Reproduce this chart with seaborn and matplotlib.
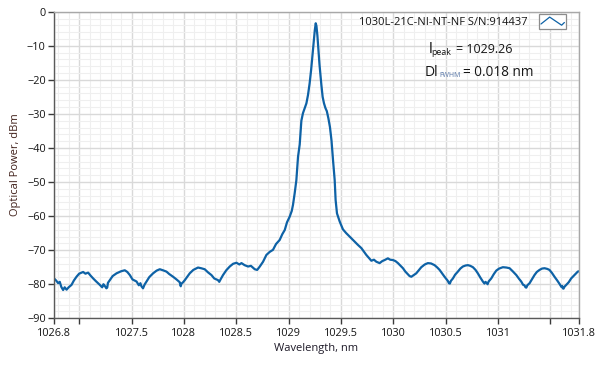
import numpy as np
import pandas as pd
import matplotlib
matplotlib.use('Agg')
import matplotlib.pyplot as plt
import seaborn as sns
from matplotlib.ticker import MultipleLocator, FixedLocator, FixedFormatter
from matplotlib.legend_handler import HandlerBase
from matplotlib.patches import Rectangle
from matplotlib.lines import Line2D

# Spectrum
wavelength_nm = [
    1026.760, 1026.780, 1026.800, 1026.815, 1026.830, 1026.847, 1026.862, 1026.880,
    1026.900, 1026.927, 1026.950, 1026.975, 1027.000, 1027.038, 1027.060, 1027.086,
    1027.110, 1027.134, 1027.160, 1027.198, 1027.220, 1027.232, 1027.245, 1027.260,
    1027.268, 1027.275, 1027.293, 1027.320, 1027.357, 1027.400, 1027.436, 1027.460,
    1027.484, 1027.510, 1027.548, 1027.570, 1027.585, 1027.595, 1027.610, 1027.625,
    1027.643, 1027.670, 1027.706, 1027.740, 1027.770, 1027.800, 1027.834, 1027.860,
    1027.897, 1027.930, 1027.960, 1027.970, 1027.977, 1027.990, 1028.009, 1028.030,
    1028.056, 1028.090, 1028.135, 1028.165, 1028.199, 1028.230, 1028.263, 1028.290,
    1028.326, 1028.338, 1028.350, 1028.374, 1028.405, 1028.438, 1028.470, 1028.502,
    1028.530, 1028.550, 1028.580, 1028.613, 1028.640, 1028.677, 1028.700, 1028.725,
    1028.756, 1028.788, 1028.820, 1028.851, 1028.880, 1028.915, 1028.940, 1028.963,
    1028.985, 1029.010, 1029.030, 1029.042, 1029.058, 1029.074, 1029.090, 1029.106,
    1029.122, 1029.137, 1029.155, 1029.170, 1029.185, 1029.201, 1029.215, 1029.227,
    1029.240, 1029.250, 1029.259, 1029.266, 1029.275, 1029.285, 1029.295, 1029.305,
    1029.313, 1029.325, 1029.338, 1029.352, 1029.365, 1029.380, 1029.395, 1029.410,
    1029.424, 1029.440, 1029.449, 1029.462, 1029.488, 1029.519, 1029.550, 1029.583,
    1029.631, 1029.660, 1029.695, 1029.742, 1029.790, 1029.815, 1029.838, 1029.869,
    1029.895, 1029.917, 1029.948, 1029.970, 1029.996, 1030.020, 1030.044, 1030.070,
    1030.092, 1030.115, 1030.139, 1030.155, 1030.172, 1030.195, 1030.219, 1030.245,
    1030.267, 1030.300, 1030.330, 1030.360, 1030.394, 1030.420, 1030.442, 1030.465,
    1030.489, 1030.510, 1030.520, 1030.531, 1030.540, 1030.550, 1030.569, 1030.590,
    1030.616, 1030.640, 1030.664, 1030.690, 1030.712, 1030.735, 1030.760, 1030.785,
    1030.807, 1030.830, 1030.855, 1030.870, 1030.880, 1030.893, 1030.900, 1030.910,
    1030.935, 1030.960, 1030.983, 1031.010, 1031.046, 1031.080, 1031.110, 1031.140,
    1031.174, 1031.200, 1031.221, 1031.240, 1031.252, 1031.262, 1031.270, 1031.280,
    1031.301, 1031.325, 1031.348, 1031.370, 1031.396, 1031.420, 1031.444, 1031.470,
    1031.491, 1031.515, 1031.539, 1031.565, 1031.587, 1031.605, 1031.612, 1031.618,
    1031.625, 1031.635, 1031.651, 1031.675, 1031.698, 1031.730, 1031.761, 1031.770,
]
power_dbm = [
    -78.3, -78.9, -79.7, -79.3, -80.8, -81.7, -80.9, -81.6,
    -80.9, -80.2, -78.9, -77.8, -76.9, -76.4, -76.9, -76.6,
    -77.5, -78.3, -79.1, -80.2, -80.9, -80.0, -80.5, -81.2,
    -81.0, -79.6, -78.8, -77.6, -76.8, -76.2, -75.9, -76.4,
    -77.3, -78.6, -79.2, -80.3, -79.7, -80.6, -81.2, -80.1,
    -79.2, -77.9, -76.8, -76.0, -75.6, -75.9, -76.3, -77.0,
    -77.8, -78.6, -79.4, -80.6, -79.8, -79.5, -78.8, -77.9,
    -76.8, -75.8, -75.1, -75.3, -75.6, -76.5, -77.3, -78.3,
    -78.8, -79.3, -78.6, -77.3, -75.9, -74.8, -74.0, -73.7,
    -74.2, -73.8, -74.4, -74.8, -74.6, -75.6, -75.8, -74.8,
    -73.4, -71.4, -70.5, -69.9, -68.2, -67.0, -65.3, -64.1,
    -61.8, -60.2, -58.5, -56.7, -53.3, -49.5, -42.6, -39.0,
    -32.0, -29.8, -28.2, -26.9, -24.5, -21.0, -17.1, -13.2,
    -9.0, -5.5, -3.4, -4.2, -7.0, -11.2, -15.5, -19.0,
    -21.5, -25.0, -26.9, -28.3, -29.2, -31.3, -33.9, -37.9,
    -43.5, -49.4, -55.3, -59.2, -61.6, -63.9, -65.0, -66.0,
    -67.5, -68.4, -69.4, -71.4, -73.1, -72.8, -73.4, -73.8,
    -73.2, -72.9, -72.4, -72.8, -72.9, -73.2, -73.8, -74.6,
    -75.3, -76.3, -77.1, -77.6, -77.8, -77.3, -76.8, -75.8,
    -75.0, -74.2, -73.8, -73.9, -74.4, -75.1, -75.8, -76.8,
    -77.8, -78.6, -79.0, -79.7, -79.8, -79.0, -78.3, -77.2,
    -76.3, -75.4, -74.8, -74.5, -74.4, -74.6, -75.0, -75.8,
    -76.8, -78.0, -79.2, -79.8, -79.3, -79.7, -80.0, -79.2,
    -78.3, -77.0, -76.0, -75.4, -75.0, -75.1, -75.3, -76.2,
    -77.3, -78.4, -79.2, -80.2, -80.3, -80.9, -81.0, -80.3,
    -79.7, -78.5, -77.3, -76.4, -75.8, -75.4, -75.3, -75.5,
    -75.8, -76.7, -77.8, -78.9, -79.9, -80.8, -80.5, -81.2,
    -81.3, -80.7, -80.2, -79.4, -78.3, -77.3, -76.3, -76.2,
]

x_tick_values = [1026.76, 1027, 1027.5, 1028, 1028.5, 1029, 1029.5,
                 1030, 1030.5, 1031, 1031.5, 1031.77]
x_tick_labels = ['1026.8', '', '1027.5', '1028', '1028.5', '1029', '1029.5',
                 '1030', '1030.5', '1031', '', '1031.8']
y_tick_values = [0, -10, -20, -30, -40, -50, -60, -70, -80, -90]

trace_name = '1030L-21C-NI-NT-NF S/N:914437'
peak_text = '= 1029.26'
fwhm_text = '= 0.018 nm'

df = pd.DataFrame({'Wavelength': wavelength_nm, 'Power': power_dbm})

sns.set_style('white')
plt.rcParams['font.family'] = ['Open Sans', 'DejaVu Sans']

W, H = 599, 370
fig = plt.figure(figsize=(W / 100, H / 100), dpi=100)
ax = fig.add_axes([54 / W, (H - 318.3) / H, (578.7 - 54) / W, (318.3 - 11.7) / H])

line_color = '#0e62a6'
sns.lineplot(data=df, x='Wavelength', y='Power', ax=ax, color=line_color,
             linewidth=1.6, sort=False, estimator=None)

ax.set_xlim(1026.76, 1031.77)
ax.set_ylim(-90, 0)

ax.xaxis.set_major_locator(FixedLocator(x_tick_values))
ax.xaxis.set_major_formatter(FixedFormatter(x_tick_labels))
ax.xaxis.set_minor_locator(MultipleLocator(0.1))
ax.yaxis.set_major_locator(FixedLocator(y_tick_values))
ax.yaxis.set_minor_locator(MultipleLocator(2))

ax.grid(which='major', color='#d9d9d9', linewidth=1.0)
ax.grid(which='minor', color='#efefef', linewidth=0.8)
ax.set_axisbelow(True)

for side in ['left', 'bottom']:
    ax.spines[side].set_color('#5a5a5a')
    ax.spines[side].set_linewidth(1.0)
for side in ['top', 'right']:
    ax.spines[side].set_color('#a8a8a8')
    ax.spines[side].set_linewidth(1.0)

ax.tick_params(which='major', direction='out', length=4, width=1, color='#3a3a3a',
               labelsize=7.8, labelcolor='#151515', bottom=True, left=True)
ax.tick_params(axis='x', pad=3)
ax.tick_params(axis='y', pad=2)
ax.tick_params(which='minor', length=0)

ax.set_xlabel('Wavelength, nm', fontsize=8, color='#1e1a28', labelpad=3)
ax.set_ylabel('Optical Power, dBm', fontsize=8, color='#40201a', labelpad=4)


class BoxedTraceHandler(HandlerBase):
    # LabVIEW style plot legend: small framed box with a zigzag trace
    def create_artists(self, legend, orig_handle, xdescent, ydescent,
                       width, height, fontsize, trans):
        x0, y0 = -xdescent, -ydescent
        frame = Rectangle((x0, y0), width, height, facecolor='white',
                          edgecolor='#8c8c8c', linewidth=0.9, transform=trans)
        xs = [x0 + f * width for f in (0.08, 0.40, 0.84, 0.94)]
        ys = [y0 + f * height for f in (0.30, 0.76, 0.22, 0.40)]
        zig = Line2D(xs, ys, color=orig_handle.get_color(), linewidth=0.9,
                     transform=trans)
        return [frame, zig]


trace = ax.lines[0]
ax.legend(handles=[trace], labels=[trace_name],
          handler_map={Line2D: BoxedTraceHandler()},
          markerfirst=False, frameon=False, loc='upper right',
          bbox_to_anchor=(566 / W, 1 - 13.5 / H), bbox_transform=fig.transFigure,
          borderpad=0, borderaxespad=0, handlelength=2.45, handleheight=1.7,
          handletextpad=1.0, fontsize=8, labelcolor='#151515')

# peak wavelength and linewidth notes
def px(x, y):
    return x / W, 1 - y / H

fig.text(*px(428.5, 53), 'l', fontsize=11, color='#151515', va='baseline')
fig.text(*px(431.5, 55), 'peak', fontsize=6.3, color='#151515', va='baseline')
fig.text(*px(456.5, 53), peak_text, fontsize=9, color='#151515', va='baseline')

fig.text(*px(425, 76.5), 'Dl', fontsize=10, color='#151515', va='baseline')
fig.text(*px(439.5, 77), 'FWHM', fontsize=5, color='#5a78a8', va='baseline')
fig.text(*px(463, 76.5), fwhm_text, fontsize=9.8, color='#151515', va='baseline')

fig.savefig('out.png', dpi=100)
